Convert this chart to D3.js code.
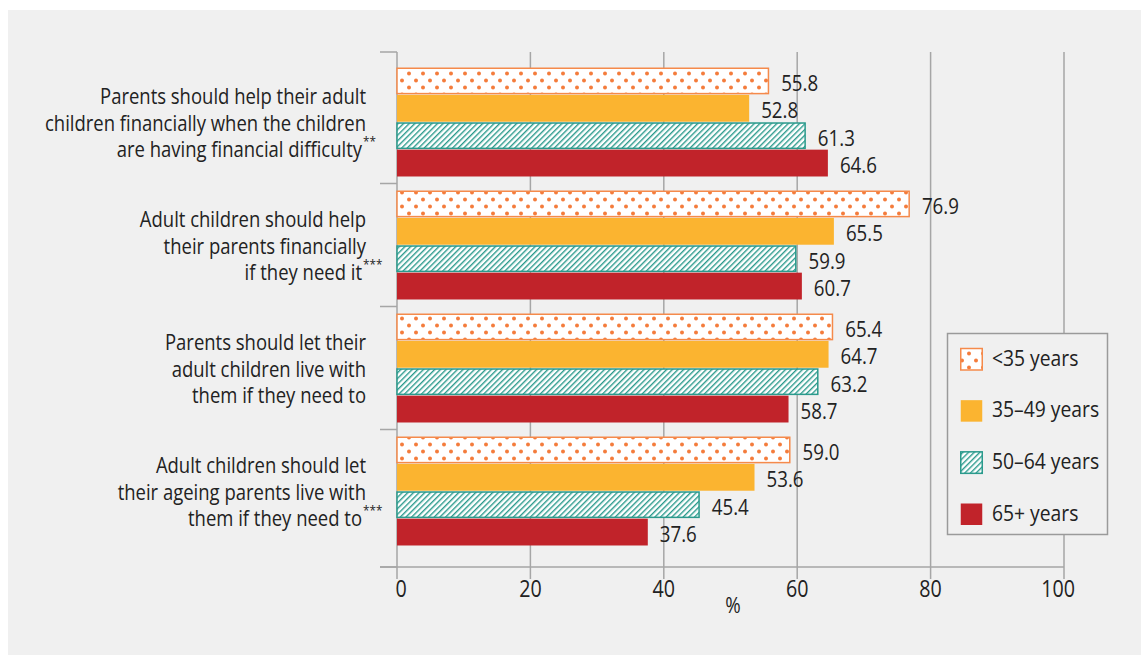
<!DOCTYPE html>
<html><head><meta charset="utf-8">
<script src="https://cdn.jsdelivr.net/npm/d3@7"></script>
<style>body{margin:0;background:#fff}svg{display:block}</style>
</head><body><div id="chart"></div>
<script>
const categories = [
  ["Parents should help their adult", "children financially when the children", "are having financial difficulty"],
  ["Adult children should help", "their parents financially", "if they need it"],
  ["Parents should let their", "adult children live with", "them if they need to"],
  ["Adult children should let", "their ageing parents live with", "them if they need to"]
];
const categoryMarks = ["**", "***", "", "***"];
const seriesNames = ["<35 years", "35\u201349 years", "50\u201364 years", "65+ years"];
const under35 = [55.8, 76.9, 65.4, 59.0];
const age35to49 = [52.8, 65.5, 64.7, 53.6];
const age50to64 = [61.3, 59.9, 63.2, 45.4];
const age65plus = [64.6, 60.7, 58.7, 37.6];
const xTicks = [0, 20, 40, 60, 80, 100];

const series = [under35, age35to49, age50to64, age65plus];
const fills = ["url(#dots)", "#fbb430", "url(#hatch)", "#c1232a"];
const strokes = ["#f58a4b", "none", "#2a9a8c", "none"];

const W = 1141, H = 655;
const FONT = "'Open Sans', sans-serif";
const svg = d3.select("#chart").append("svg").attr("width", W).attr("height", H)
  .style("font-family", FONT);

const defs = svg.append("defs");
const dots = defs.append("pattern").attr("id", "dots").attr("patternUnits", "userSpaceOnUse")
  .attr("width", 14).attr("height", 14);
dots.append("rect").attr("width", 14).attr("height", 14).attr("fill", "#fff");
dots.append("circle").attr("cx", 3).attr("cy", 3.5).attr("r", 2).attr("fill", "#f47c3c");
dots.append("circle").attr("cx", 10).attr("cy", 10.5).attr("r", 2).attr("fill", "#f47c3c");
const hatch = defs.append("pattern").attr("id", "hatch").attr("patternUnits", "userSpaceOnUse")
  .attr("width", 4).attr("height", 4).attr("patternTransform", "rotate(45)");
hatch.append("rect").attr("width", 4).attr("height", 4).attr("fill", "#fff");
hatch.append("rect").attr("x", 0).attr("width", 1.4).attr("height", 4).attr("fill", "#2a9a8c");

svg.append("rect").attr("x", 8).attr("y", 10).attr("width", W - 8).attr("height", H - 10).attr("fill", "#f0f0f0");

const x = d3.scaleLinear().domain([0, 100]).range([397, 1064]);
const y0 = d3.scaleBand().domain(d3.range(categories.length)).range([60.5, 552.5])
  .paddingInner(0.114).paddingOuter(0.057);
const y1 = d3.scaleBand().domain(d3.range(series.length)).range([0, y0.bandwidth()]).paddingInner(0.02);

const gridTop = 52, axisY = 567, tickBottom = 579;
const grid = "#a6a6a6";

svg.append("g").selectAll("line").data(xTicks).join("line")
  .attr("x1", d => x(d)).attr("x2", d => x(d))
  .attr("y1", gridTop).attr("y2", tickBottom)
  .attr("stroke", grid).attr("stroke-width", 1.5);

const seps = [gridTop].concat(d3.range(1, categories.length).map(i => y0.step() * i + 60.5), [axisY]);
svg.append("g").selectAll("line").data(seps).join("line")
  .attr("x1", 380).attr("x2", x(0)).attr("y1", d => d).attr("y2", d => d)
  .attr("stroke", grid).attr("stroke-width", 1.5);

svg.append("line").attr("x1", 380).attr("x2", x(100)).attr("y1", axisY).attr("y2", axisY)
  .attr("stroke", grid).attr("stroke-width", 1.5);

const gBars = svg.append("g");
series.forEach((vals, si) => {
  const inset = strokes[si] !== "none" ? 0.75 : 0;
  gBars.append("g").selectAll("rect").data(vals).join("rect")
    .attr("x", x(0))
    .attr("y", (d, ci) => y0(ci) + y1(si) + inset)
    .attr("width", d => x(d) - x(0) - inset)
    .attr("height", y1.bandwidth() - 2 * inset)
    .attr("fill", fills[si])
    .attr("stroke", strokes[si]).attr("stroke-width", 1.5);
  gBars.append("g").selectAll("text").data(vals).join("text")
    .attr("transform", (d, ci) => `translate(${x(d) + 12},${y0(ci) + y1(si) + y1.bandwidth() / 2 + 4}) scale(0.85,1)`)
    .attr("dominant-baseline", "middle")
    .attr("font-size", 22).attr("fill", "#222")
    .text(d => d.toFixed(1));
});

categories.forEach((lines, ci) => {
  const cy = y0(ci) + y0.bandwidth() / 2 + 3;
  const t = svg.append("text").attr("text-anchor", "end").attr("font-size", 21).attr("fill", "#222")
    .attr("transform", `translate(366,${cy}) scale(0.88,1)`);
  lines.forEach((ln, li) => {
    const last = li === lines.length - 1 && categoryMarks[ci];
    t.append("tspan").attr("x", last ? -4 / 0.88 : 0)
      .attr("y", (li - 1) * 26.5).attr("dominant-baseline", "middle").text(ln);
  });
  if (categoryMarks[ci]) {
    svg.append("text").attr("transform", `translate(363,${cy + 26.5 - 9}) scale(0.9,1)`)
      .attr("font-size", 13).attr("fill", "#222").attr("dominant-baseline", "middle").text(categoryMarks[ci]);
  }
});

const tickNudge = d => d === xTicks[0] ? 4 : (d === xTicks[xTicks.length - 1] ? -6 : 0);
svg.append("g").selectAll("text").data(xTicks).join("text")
  .attr("transform", d => `translate(${x(d) + tickNudge(d)},591) scale(0.82,1)`)
  .attr("text-anchor", "middle")
  .attr("dominant-baseline", "middle").attr("font-size", 24).attr("fill", "#222")
  .text(d => d);
svg.append("text").attr("transform", "translate(733,607) scale(0.85,1)").attr("text-anchor", "middle")
  .attr("dominant-baseline", "middle").attr("font-size", 22).attr("fill", "#222").text("%");

const lg = svg.append("g");
lg.append("rect").attr("x", 947.5).attr("y", 333.5).attr("width", 160).attr("height", 201)
  .attr("fill", "#f0f0f0").attr("stroke", "#9a9a9a").attr("stroke-width", 1.5);
const legendY = d3.scalePoint().domain(d3.range(seriesNames.length)).range([359, 514]);
seriesNames.forEach((nm, si) => {
  const cy = legendY(si);
  lg.append("rect").attr("x", 960.75).attr("y", cy - 10.5).attr("width", 21.5).attr("height", 21.5)
    .attr("fill", fills[si]).attr("stroke", strokes[si]).attr("stroke-width", 1.5);
  lg.append("text").attr("transform", `translate(992,${cy + 1}) scale(0.92,1)`).attr("dominant-baseline", "middle")
    .attr("font-size", 21).attr("fill", "#222").text(nm);
});
</script></body></html>
